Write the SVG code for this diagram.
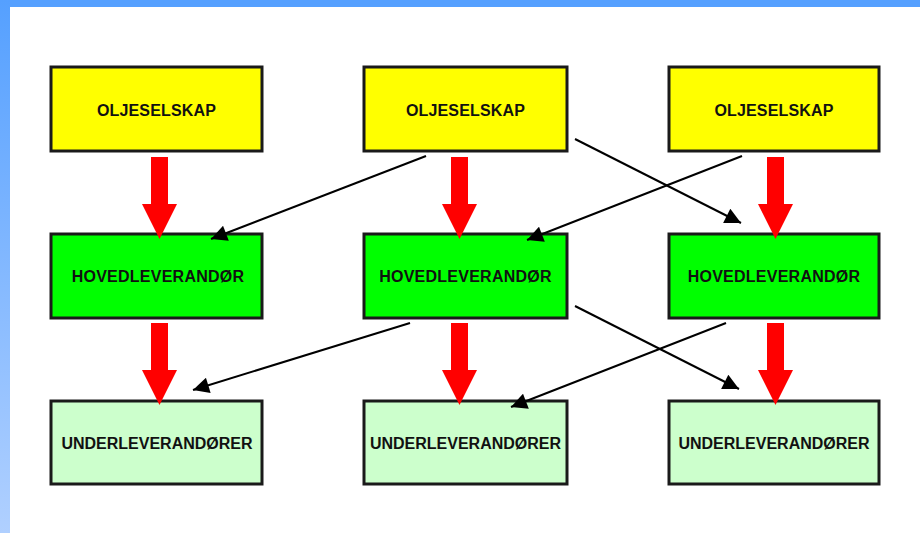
<svg xmlns="http://www.w3.org/2000/svg" width="920" height="533" viewBox="0 0 920 533">
<defs>
<linearGradient id="lg" x1="0" y1="0" x2="0" y2="1">
<stop offset="0" stop-color="#55a0ff"/>
<stop offset="1" stop-color="#b0d0ff"/>
</linearGradient>
<marker id="ah" viewBox="0 0 10 10" refX="10" refY="5" markerWidth="9" markerHeight="8" markerUnits="strokeWidth" orient="auto">
<path d="M0,0 L10,5 L0,10 z" fill="#000"/>
</marker>
<path id="red" d="M-8.5,0 H8.5 V47 H17.5 L0,82 L-17.5,47 H-8.5 Z" fill="#ff0000"/>
</defs>
<style>
.box{stroke:#1a1a1a;stroke-width:3}
.y{fill:#ffff00}.g{fill:#00ff00}.u{fill:#ccffcc}
.t{font-family:"Liberation Sans",Arial,sans-serif;font-weight:bold;font-size:16px;fill:#111;text-anchor:middle}
.c{stroke:#000;stroke-width:2;fill:none;marker-end:url(#ah)}
</style>
<rect width="920" height="533" fill="#fff"/>
<rect x="0" y="0" width="920" height="7" fill="#55a0ff"/>
<rect x="0" y="0" width="10" height="533" fill="url(#lg)"/>

<g id="o1"><rect class="box y" x="51" y="67" width="211" height="84"/><text class="t" x="156.5" y="116" letter-spacing="0.15">OLJESELSKAP</text></g>
<g id="o2"><rect class="box y" x="364" y="67" width="203" height="84"/><text class="t" x="465.5" y="116" letter-spacing="0.15">OLJESELSKAP</text></g>
<g id="o3"><rect class="box y" x="669" y="67" width="210" height="84"/><text class="t" x="774" y="116" letter-spacing="0.15">OLJESELSKAP</text></g>

<g id="h1"><rect class="box g" x="51" y="234" width="211" height="84"/><text class="t" x="158" y="282" letter-spacing="0.25">HOVEDLEVERANDØR</text></g>
<g id="h2"><rect class="box g" x="364" y="234" width="203" height="84"/><text class="t" x="465.5" y="282" letter-spacing="0.25">HOVEDLEVERANDØR</text></g>
<g id="h3"><rect class="box g" x="669" y="234" width="210" height="84"/><text class="t" x="774" y="282" letter-spacing="0.25">HOVEDLEVERANDØR</text></g>

<g id="u1"><rect class="box u" x="51" y="401" width="211" height="83"/><text class="t" x="157" y="449" letter-spacing="0">UNDERLEVERANDØRER</text></g>
<g id="u2"><rect class="box u" x="364" y="401" width="203" height="83"/><text class="t" x="465.5" y="449" letter-spacing="0">UNDERLEVERANDØRER</text></g>
<g id="u3"><rect class="box u" x="669" y="401" width="210" height="83"/><text class="t" x="774" y="449" letter-spacing="0">UNDERLEVERANDØRER</text></g>

<g id="connectors">
<use href="#red" x="159.5" y="157"/>
<use href="#red" x="459.5" y="157"/>
<use href="#red" x="775.5" y="157"/>
<use href="#red" x="159.5" y="323"/>
<use href="#red" x="459.5" y="323"/>
<use href="#red" x="775.5" y="323"/>
<line class="c" x1="426" y1="156" x2="211" y2="239"/>
<line class="c" x1="575" y1="139" x2="741" y2="223"/>
<line class="c" x1="742" y1="156" x2="527" y2="240"/>
<line class="c" x1="410" y1="323" x2="193" y2="390"/>
<line class="c" x1="575" y1="306" x2="739" y2="389"/>
<line class="c" x1="726" y1="323" x2="511" y2="407"/>
</g>
</svg>
